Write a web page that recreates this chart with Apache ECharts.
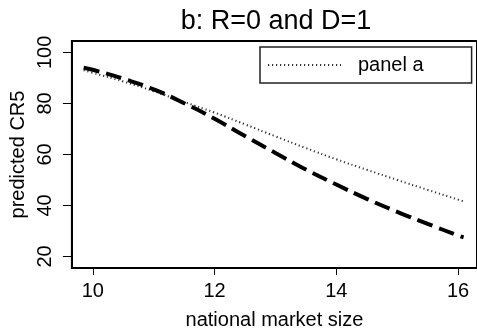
<!DOCTYPE html>
<html>
<head>
<meta charset="utf-8">
<script src="https://cdn.jsdelivr.net/npm/echarts@6/dist/echarts.min.js"></script>
<style>html,body{margin:0;padding:0;background:#fff}#c{width:477px;height:335px}</style>
</head>
<body>
<div id="c"></div>
<script>
const marketSize = [9.85, 10, 10.5, 11, 11.5, 12, 12.5, 13, 13.5, 14, 14.5, 15, 15.5, 16, 16.09];
const seriesB = [94.0, 93.2, 89.7, 85.5, 80.1, 74.0, 67.2, 60.6, 54.1, 48.2, 42.6, 37.5, 32.8, 28.2, 27.5];
const panelA = [93.0, 92.0, 88.6, 84.8, 80.6, 76.4, 71.8, 67.1, 62.5, 58.1, 54.0, 50.0, 46.1, 42.3, 41.6];
const xTicks = [10, 12, 14, 16];
const yTicks = [20, 40, 60, 80, 100];

const font = 'Liberation Sans, Arial, sans-serif';
const chart = echarts.init(document.getElementById('c'), null, {renderer: 'canvas'});
chart.setOption({
  animation: false,
  backgroundColor: '#fff',
  title: {
    text: 'b: R=0 and D=1',
    left: 271, top: 3, textAlign: 'center',
    textStyle: {fontFamily: font, fontSize: 27, fontWeight: 'normal', color: '#000'}
  },
  legend: {
    data: [{name: 'panel a'}],
    left: 260, top: 47,
    orient: 'horizontal',
    itemWidth: 73, itemHeight: 14,
    padding: [7, 48, 7, 7],
    borderColor: '#222', borderWidth: 1.5,
    itemStyle: {opacity: 0},
    textStyle: {fontFamily: font, fontSize: 20, color: '#000', lineHeight: 22, padding: [0, 0, 0, 12]},
    selectedMode: false
  },
  grid: {
    left: 67, top: 41, right: -3, bottom: 61.5,
    show: true, borderColor: '#000', borderWidth: 2, containLabel: false
  },
  xAxis: {
    type: 'value',
    min: 9.657, max: 16.31,
    name: 'national market size', nameLocation: 'middle', nameGap: 42,
    nameTextStyle: {fontFamily: font, fontSize: 20, color: '#000'},
    axisLine: {show: true, lineStyle: {color: '#000', width: 2}},
    axisTick: {show: true, length: 7, customValues: xTicks, lineStyle: {color: '#000', width: 1}},
    axisLabel: {customValues: xTicks, margin: 13, fontFamily: font, fontSize: 20, color: '#000'},
    splitLine: {show: false}
  },
  yAxis: {
    type: 'value',
    min: 15.48, max: 104.48,
    name: 'predicted CR5', nameLocation: 'middle', nameGap: 34,
    nameTextStyle: {fontFamily: font, fontSize: 20, color: '#000'},
    axisLine: {show: true, lineStyle: {color: '#000', width: 2}},
    axisTick: {show: true, length: 9, customValues: yTicks, lineStyle: {color: '#000', width: 1}},
    axisLabel: {customValues: yTicks, rotate: 90, margin: 16, fontFamily: font, fontSize: 20, color: '#000'},
    splitLine: {show: false}
  },
  series: [
    {
      name: 'R=0 and D=1', type: 'line', showSymbol: false, symbol: 'none', smooth: true,
      data: marketSize.map((x, i) => [x, seriesB[i]]),
      lineStyle: {color: '#000', width: 4, type: [16, 7], cap: 'butt'},
      z: 3
    },
    {
      name: 'panel a', type: 'line', showSymbol: false, symbol: 'none', smooth: true,
      itemStyle: {color: '#333'},
      data: marketSize.map((x, i) => [x, panelA[i]]),
      lineStyle: {color: '#333', width: 2, type: [1.2, 2.8]},
      z: 2
    }
  ]
});
</script>
</body>
</html>
